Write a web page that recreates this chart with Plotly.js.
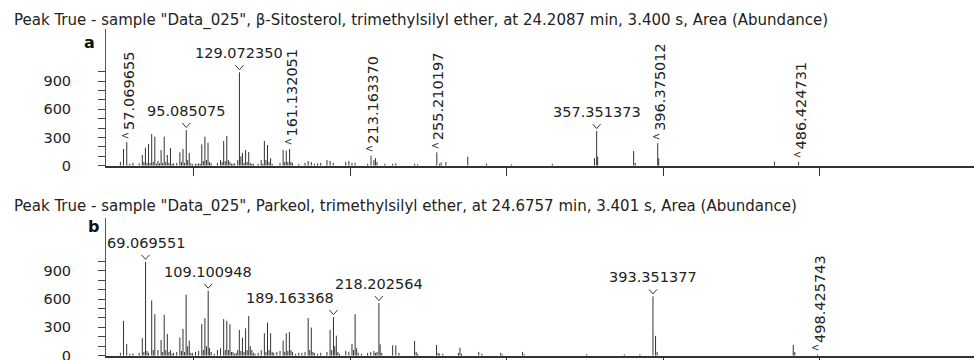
<!DOCTYPE html>
<html><head><meta charset="utf-8">
<script src="https://cdn.plot.ly/plotly-3.0.1.min.js"></script>
<style>html,body{margin:0;padding:0;background:#fff;} #chart{width:974px;height:360px;}</style>
</head><body><div id="chart"></div>
<script>
// Panel a: beta-Sitosterol TMS ether (m/z, abundance)
const mzA = [53,55,57.069655,59,61,65,67,68,69,70,71,72,73,74,75,76,77,78,79,80,81,82,83,84,85,86,87,89,91,92,93,94,95.085075,96,97,98,99,101,102,103,104,105,106,107,108,109,110,111,115,117,118,119,120,121,122,123,124,125,126,128,129.072350,130,131,132,133,134,135,136,137,138,141,143,144,145,146,147,148,149,150,155,157,158,159,160,161.132051,162,163,167,171,173,175,177,179,181,185,187,189,197,199,201,203,211,213.163370,215,216,217,222,227,229,241,243,255.210197,257,258,261,275,287,303,329,356,357.351373,358,381,382,396.375012,397,471,486.424731];
const intA = [40,178,250,20,30,25,114,40,192,30,231,30,337,40,309,20,50,25,167,30,309,40,114,30,188,20,25,30,142,40,178,30,380,60,135,25,20,20,15,25,20,227,50,309,60,245,40,25,30,60,40,263,50,316,60,40,20,20,25,60,994,100,135,30,167,40,146,30,20,20,20,60,20,263,60,220,40,80,20,30,167,40,160,40,178,40,30,20,30,50,40,20,25,30,60,50,30,40,50,30,30,20,106,60,80,40,20,20,25,20,15,142,20,35,40,96,20,15,20,80,369,96,156,30,240,80,43,40];

// Panel b: Parkeol TMS ether (m/z, abundance)
const mzB = [53,55,57,59,61,65,67,68,69.069551,70,71,73,74,75,77,79,80,81,82,83,84,85,86,87,89,91,92,93,94,95,96,97,98,99,101,103,105,106,107,108,109.100948,110,111,113,115,117,119,120,121,122,123,124,125,126,127,128,129,130,131,132,133,134,135,136,137,138,139,141,143,145,146,147,148,149,150,151,153,155,157,158,159,160,161,162,163,165,167,169,171,173,174,175,176,177,179,181,185,187,188,189.163368,190,191,192,193,197,199,201,202,203,204,205,207,211,213,215,216,217,218.202564,219,220,227,229,231,241,242,243,255,256,257,259,269,270,271,282,284,296,297,310,311,351,375,385,393.351377,395,396,483,484,498.425743];
const intB = [30,369,124,20,25,30,185,40,994,50,30,585,60,440,60,167,40,433,60,231,40,60,20,30,40,192,50,284,40,646,100,160,30,30,40,50,334,60,398,100,688,80,40,20,60,80,387,60,369,60,334,40,40,20,30,60,273,50,192,40,290,60,420,100,60,30,20,30,60,238,40,351,60,238,40,30,40,50,160,40,238,50,250,60,40,20,30,30,40,398,60,298,40,30,20,30,40,273,60,409,100,212,40,20,50,40,125,60,440,80,30,20,30,40,50,30,40,557,120,30,110,110,30,156,40,20,114,30,20,20,30,85,20,40,20,30,15,40,15,15,15,15,628,210,40,114,40,12];

// Peak annotations
const labA_mz = [57.069655,95.085075,129.072350,161.132051,213.163370,255.210197,357.351373,396.375012,486.424731];
const labA_txt = ["57.069655","95.085075","129.072350","161.132051","213.163370","255.210197","357.351373","396.375012","486.424731"];
const labA_vert = [true,false,false,true,true,true,false,true,true];
const labB_mz = [69.069551,109.100948,189.163368,218.202564,393.351377,498.425743];
const labB_txt = ["69.069551","109.100948","189.163368","218.202564","393.351377","498.425743"];
const labB_vert = [false,false,false,false,false,true];
const labB_shiftLeft = [false,false,true,false,false,false];

const titleA = 'Peak True - sample "Data_025", β-Sitosterol, trimethylsilyl ether, at 24.2087 min, 3.400 s, Area (Abundance)';
const titleB = 'Peak True - sample "Data_025", Parkeol, trimethylsilyl ether, at 24.6757 min, 3.401 s, Area (Abundance)';
const yTickVals = [0,100,200,300,400,500,600,700,800,900,1000];
const yTickText = ["0","","","300","","","600","","","900",""];
const xTickVals = [100,200,300,400,500];

const FONT = 'DejaVu Sans';
function sticks(mz, it){
  const x=[], y=[];
  mz.forEach((m,i)=>{ x.push(m,m,null); y.push(0,it[i],null); });
  return {x, y};
}
const sA = sticks(mzA, intA), sB = sticks(mzB, intB);
const traces = [
  {type:'scatter', mode:'lines', x:sA.x, y:sA.y, xaxis:'x', yaxis:'y', line:{color:'#333', width:1}, hoverinfo:'skip', showlegend:false},
  {type:'scatter', mode:'lines', x:sB.x, y:sB.y, xaxis:'x2', yaxis:'y2', line:{color:'#333', width:1}, hoverinfo:'skip', showlegend:false}
];

const annotations = [];
const shapes = [];
function addLabels(mzs, txts, verts, mzArr, intArr, xr, yr, leftArr){
  mzs.forEach((m,i)=>{
    const h = intArr[mzArr.indexOf(m)];
    if (verts[i]) {
      annotations.push({x:m, y:h, xref:xr, yref:yr, text:txts[i], showarrow:false, textangle:-90,
        xanchor:'center', yanchor:'bottom', xshift:2, yshift:10, font:{family:FONT, size:14.5, color:'#222'}});
      annotations.push({x:m, y:h, xref:xr, yref:yr, text:'<', showarrow:false,
        xanchor:'center', yanchor:'middle', xshift:-2, yshift:7, borderpad:0, font:{family:FONT, size:10, color:'#333'}});
    } else {
      const left = leftArr && leftArr[i];
      annotations.push({x:m, y:h, xref:xr, yref:yr, text:txts[i], showarrow:false,
        xanchor: left ? 'right' : 'center', yanchor:'bottom', xshift: left ? 3 : 0, yshift:9, font:{family:FONT, size:14.5, color:'#222'}});
      shapes.push({type:'path', xref:xr, yref:yr, xsizemode:'pixel', ysizemode:'pixel', xanchor:m, yanchor:h,
        path:'M -4,7 L 0,2.5 L 4,7', line:{color:'#333', width:1}});
    }
  });
}
addLabels(labA_mz, labA_txt, labA_vert, mzA, intA, 'x', 'y', null);
addLabels(labB_mz, labB_txt, labB_vert, mzB, intB, 'x2', 'y2', labB_shiftLeft);

annotations.push({xref:'paper', yref:'paper', x:12/974, y:1-20/360, xanchor:'left', yanchor:'middle', text:titleA, showarrow:false, font:{family:FONT, size:15, color:'#222'}});
annotations.push({xref:'paper', yref:'paper', x:12/974, y:1-206/360, xanchor:'left', yanchor:'middle', text:titleB, showarrow:false, font:{family:FONT, size:15, color:'#222'}});
annotations.push({xref:'paper', yref:'paper', x:89/974, y:1-42/360, xanchor:'center', yanchor:'middle', text:'<b>a</b>', showarrow:false, font:{family:FONT, size:16, color:'#111'}});
annotations.push({xref:'paper', yref:'paper', x:93/974, y:1-226/360, xanchor:'center', yanchor:'middle', text:'<b>b</b>', showarrow:false, font:{family:FONT, size:16, color:'#111'}});

function xax(anchor){
  return {domain:[106/974,1], range:[43.8,598.5], anchor:anchor, showline:true, linewidth:2, linecolor:'#333',
    ticks:'outside', ticklen:8, tickwidth:1, tickcolor:'#333', tickvals:xTickVals, showticklabels:false,
    showgrid:false, zeroline:false};
}
function yax(anchor, dom){
  return {domain:dom, range:[0,1455], anchor:anchor, showline:true, linewidth:1, linecolor:'#555',
    ticks:'outside', ticklen:7, tickwidth:1, tickcolor:'#444', tickvals:yTickVals, ticktext:yTickText,
    ticklabelstandoff:24, ticklabeloverflow:'allow', tickfont:{family:FONT, size:14.5, color:'#222'}, showgrid:false, zeroline:false};
}
const layout = {
  width:974, height:360, margin:{l:0,r:0,t:0,b:0}, paper_bgcolor:'#fff', plot_bgcolor:'#fff',
  showlegend:false,
  xaxis: xax('y'), yaxis: yax('x', [1-165.7/360, 1-29/360]),
  xaxis2: xax('y2'), yaxis2: yax('x2', [1-355.7/360, 1-218.3/360]),
  annotations: annotations, shapes: shapes
};
Plotly.newPlot('chart', traces, layout, {staticPlot:true, displayModeBar:false});
</script></body></html>
